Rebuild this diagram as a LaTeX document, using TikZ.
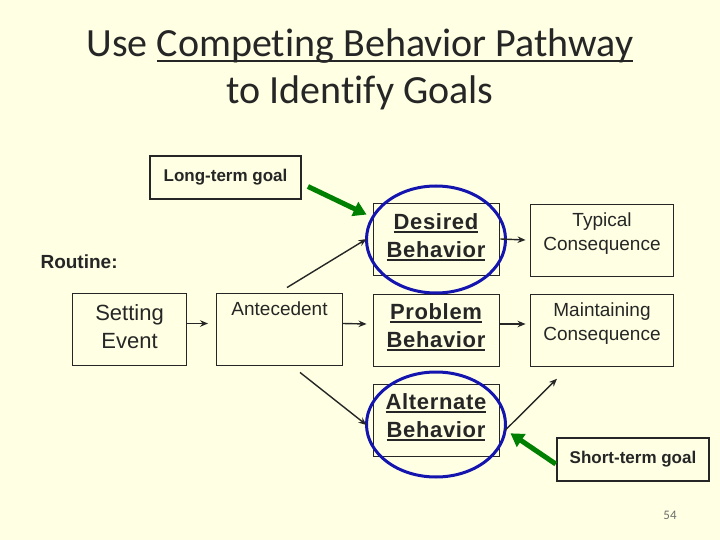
\documentclass[tikz,border=0pt]{standalone}
\usepackage{fontspec}
\setmainfont{Liberation Sans}
\newfontfamily\titlefont[Ligatures={NoCommon}]{Carlito}
\newfontfamily\spacedfont[LetterSpace=3]{Liberation Sans}
\usetikzlibrary{arrows.meta}
\definecolor{bg}{RGB}{255,255,227}
\definecolor{ink}{RGB}{38,38,38}
\definecolor{ringblue}{RGB}{20,20,175}
\definecolor{goalgreen}{RGB}{0,128,0}
\definecolor{pagegray}{RGB}{110,110,110}
\newcommand\myul[1]{\setbox0\hbox{#1}\rlap{\color{ink}\rule[-3.5pt]{\wd0}{1.8pt}}\box0}
\newcommand\titleul[1]{\setbox0\hbox{#1}\rlap{\color{ink}\rule[-5pt]{\wd0}{2pt}}\box0}
\begin{document}
\begin{tikzpicture}[x=1pt,y=-1pt,
  box/.style={draw=ink, line width=0.9pt, minimum width=126pt, minimum height=72pt, inner sep=0pt},
  widebox/.style={box, minimum width=143pt},
  goalbox/.style={draw=ink, line width=2.5pt, inner sep=0pt, minimum height=43pt},
  goaltxt/.style={font=\fontsize{17}{20}\selectfont\bfseries, text=ink},
  bigtxt/.style={font=\spacedfont\bfseries\fontsize{22}{28}\selectfont, text=ink, align=center},
  midtxt/.style={font=\fontsize{22}{28}\selectfont, text=ink, align=center},
  smalltxt/.style={font=\fontsize{19}{24}\selectfont, text=ink, align=center},
  conn/.style={draw=ink, line width=1.4pt, -{Stealth[length=8pt,width=6.5pt]}},
  goalarrow/.style={draw=goalgreen, line width=5pt, -{Triangle[length=13pt,width=15pt]}},
  ring/.style={draw=ringblue, line width=3pt}]
\fill[bg] (0,0) rectangle (720,540);
\useasboundingbox (0,0) rectangle (720,540);

% title
\node[font=\titlefont\fontsize{40}{48}\selectfont, text=ink, anchor=base] (title1) at (360,57) {Use \titleul{Competing Behavior Pathway}};
\node[font=\titlefont\fontsize{40}{48}\selectfont, text=ink, anchor=base] (title2) at (360,104) {to Identify Goals};

% boxes
\node[goalbox, minimum width=151pt] (longgoal) at (225.5,177.5) {};
\node[goaltxt] (longtxt) at (225.5,177.5) {Long-term goal};
\node[goalbox, minimum width=152pt] (shortgoal) at (633,459.5) {};
\node[goaltxt] (shorttxt) at (633,459.5) {Short-term goal};

\node[font=\fontsize{19}{24}\selectfont\bfseries, text=ink, anchor=west] (routine) at (37,262) {Routine:};

\node[box, minimum width=114pt] (setting) at (129.5,329.5) {};
\node[midtxt] (settingtxt) at (129.5,327) {Setting\\Event};
\node[box] (antecedent) at (279.5,329.5) {};
\node[smalltxt, anchor=north] (antetxt) at (279.5,298) {Antecedent};

\node[box] (desired) at (436,239) {};
\node[bigtxt] (desiredtxt) at (436,237) {\myul{Desired}\\\myul{Behavior}};
\node[box] (problem) at (436,330) {};
\node[bigtxt] (problemtxt) at (436,327) {\myul{Problem}\\\myul{Behavior}};
\node[box] (alternate) at (436,420) {};
\node[bigtxt] (alternatetxt) at (436,417.5) {\myul{Alternate}\\\myul{Behavior}};

\node[widebox] (typical) at (602,240) {};
\node[smalltxt, anchor=north] (typicaltxt) at (602,209) {Typical\\Consequence};
\node[widebox] (maintain) at (602,330) {};
\node[smalltxt, anchor=north] (maintaintxt) at (602,299) {Maintaining\\Consequence};

% rings
\draw[ring] (436,239.5) ellipse [x radius=69.5pt, y radius=53.5pt];
\draw[ring] (436,424.5) ellipse [x radius=69.5pt, y radius=52.5pt];

% connectors
\draw[conn] ([yshift=6pt]setting.east) -- ([shift={(-8pt,6pt)}]antecedent.west);
\draw[conn] ([yshift=6pt]antecedent.east) -- ([shift={(-6pt,6pt)}]problem.west);
\draw[conn] ([shift={(7.5pt,5.5pt)}]antecedent.north) -- ([xshift=-6pt]desired.west);
\draw[conn] ([shift={(20.5pt,-6.5pt)}]antecedent.south) -- ([shift={(-6pt,-5pt)}]alternate.west);
\draw[conn] ([xshift=1pt]desired.east) -- ([xshift=-4.5pt]typical.west);
\draw[conn] ([yshift=6pt]problem.east) -- ([shift={(-4.5pt,6pt)}]maintain.west);
\draw[conn] ([shift={(6pt,-10pt)}]alternate.east) -- ([shift={(-45pt,-12.3pt)}]maintain.south);

% goal arrows
\draw[goalarrow] ([shift={(5.7pt,-9pt)}]longgoal.east) -- ([shift={(-6pt,-12pt)}]desired.north west);
\draw[goalarrow] ([yshift=-4.5pt]shortgoal.west) -- ([shift={(11pt,-13.3pt)}]alternate.east);

\node[font=\titlefont\fontsize{13}{15}\selectfont, text=pagegray] (page) at (670,515) {54};
\end{tikzpicture}
\end{document}
